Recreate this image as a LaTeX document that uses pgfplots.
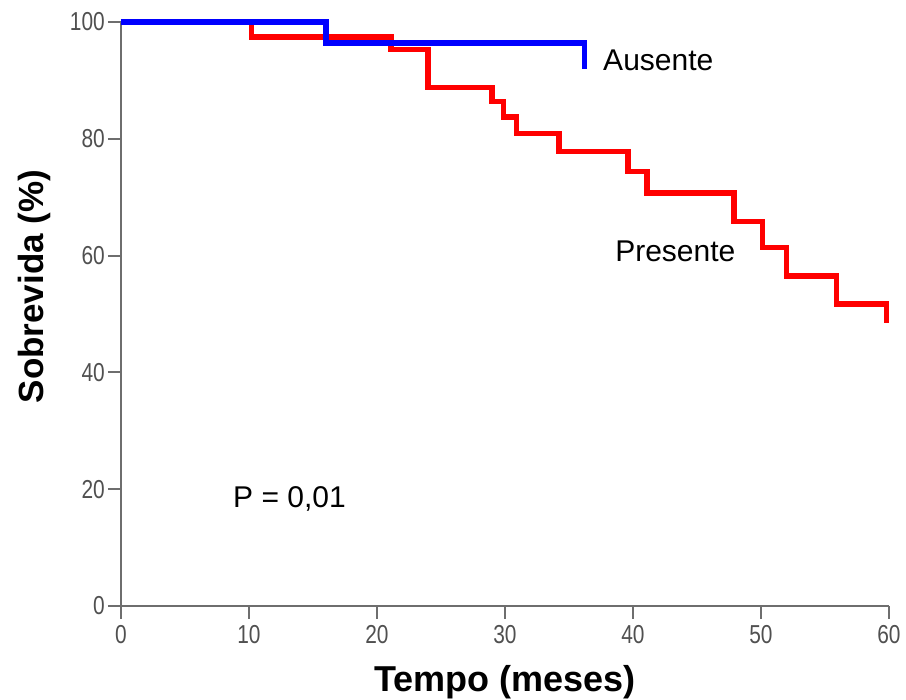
\documentclass[border=0pt]{standalone}
\usepackage{fontspec}
\setmainfont{Liberation Sans}
\usepackage{pgfplots}
\pgfplotsset{compat=1.18}
\definecolor{axgray}{HTML}{6E6E6E}
\definecolor{tickgray}{HTML}{505050}
\begin{document}
\begin{tikzpicture}
\begin{axis}[
  at={(0,0)}, anchor=south west,
  scale only axis, width=768bp, height=584bp,
  xmin=0, xmax=60, ymin=0, ymax=100,
  axis lines=left,
  axis line style={axgray, line width=2bp, -},
  xtick={0,10,...,60}, ytick={0,20,...,100},
  tick align=outside, major tick length=13bp,
  tick style={axgray, line width=2bp},
  /pgf/number format/assume math mode=true,
  ticklabel style={font=\fontsize{22bp}{26bp}\selectfont, text=tickgray},
  xticklabel={\scalebox{0.95}[1.18]{\pgfmathprintnumber{\tick}}},
  yticklabel={\scalebox{0.95}[1.18]{\pgfmathprintnumber{\tick}}},
  xticklabel style={inner sep=6bp},
  yticklabel style={inner sep=3bp},
  xlabel={Tempo (meses)},
  xlabel style={at={(axis description cs:0.5,0)}, anchor=base, yshift=-85.7bp, inner sep=0pt, font=\bfseries\fontsize{36bp}{40bp}\selectfont},
  ylabel={Sobrevida (\%)},
  ylabel style={at={([xshift=-77.5bp]axis description cs:0,0.547)}, anchor=base, inner sep=0pt, font=\bfseries\fontsize{35bp}{40bp}\selectfont},
  clip=false,
]
\addplot[red, line width=5.5bp, line join=miter] coordinates {
(0,100) (10.2,100) (10.2,97.4) (21.1,97.4) (21.1,95.3) (24,95.3) (24,88.8)
(29,88.8) (29,86.4) (29.9,86.4) (29.9,83.7) (30.9,83.7) (30.9,80.9)
(34.2,80.9) (34.2,77.8) (39.6,77.8) (39.6,74.4) (41.1,74.4) (41.1,70.7)
(47.9,70.7) (47.9,65.8) (50.1,65.8) (50.1,61.4) (52,61.4) (52,56.5)
(55.9,56.5) (55.9,51.7) (59.8,51.7) (59.8,48.5)
};
\addplot[blue, line width=5.5bp, line join=miter] coordinates {
(0,100) (16,100) (16,96.4) (36.2,96.4) (36.2,92)
};
\node[anchor=base west, inner sep=0pt, font=\fontsize{30bp}{36bp}\selectfont] at (axis cs:37.66,91.66) {Ausente};
\node[anchor=base west, inner sep=0pt, font=\fontsize{30bp}{36bp}\selectfont] at (axis cs:38.6,58.96) {Presente};
\node[anchor=base west, inner sep=0pt, font=\fontsize{30bp}{36bp}\selectfont] at (axis cs:8.75,16.9) {P = 0,01};
\end{axis}
\pgfresetboundingbox
\useasboundingbox (-121bp,-94bp) rectangle (785bp,606bp);
\end{tikzpicture}
\end{document}
